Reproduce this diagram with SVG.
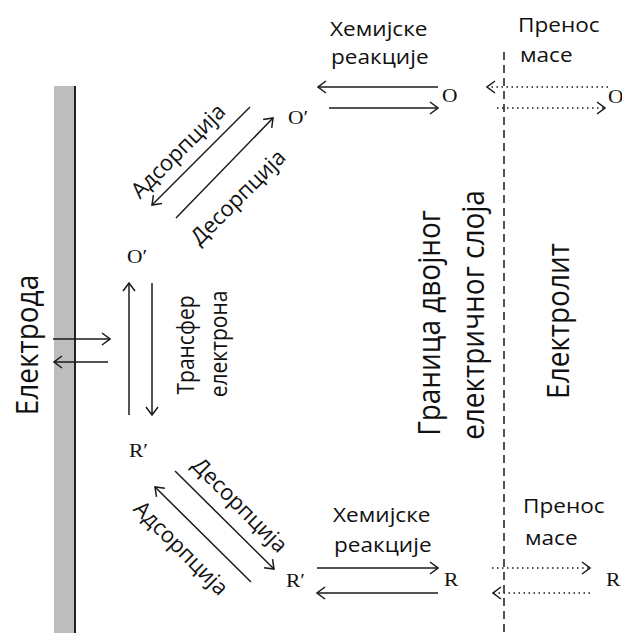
<svg xmlns="http://www.w3.org/2000/svg" width="622" height="633" viewBox="0 0 622 633">
<defs>
<style>
.s{font-family:"Open Sans","Noto Sans","DejaVu Sans",sans-serif;fill:#111}
.h{font-size:20px}
.b{font-size:28px}
.d{font-size:22px}
.v{font-size:21px}
.m{font-family:"Liberation Serif","Times New Roman",serif;font-size:19px;fill:#111}
.c{text-anchor:middle;dominant-baseline:central}
.ln{stroke:#1a1a1a;stroke-width:1.5;fill:none}
.dt{stroke:#1a1a1a;stroke-width:1.5;fill:none;stroke-dasharray:1.5,3.5}
</style>
<marker id="ah" viewBox="0 0 10 14" refX="9" refY="7" markerWidth="10" markerHeight="14" markerUnits="userSpaceOnUse" orient="auto">
<path d="M1,1 L9,7 L1,13" fill="none" stroke="#1a1a1a" stroke-width="1.5"/>
</marker>
</defs>
<rect width="622" height="633" fill="#fff"/>
<g id="electrode">
<rect x="54" y="86" width="21" height="547" fill="#bdbdbd"/>
<line x1="75" y1="86" x2="75" y2="633" stroke="#222" stroke-width="2"/>
<text class="s b c" transform="translate(26,345) scale(1.13,1) rotate(-90)">Електрода</text>
</g>
<g id="boundary">
<line x1="504" y1="52" x2="504" y2="633" stroke="#1a1a1a" stroke-width="1.5" stroke-dasharray="8,5"/>
<text class="s b c" transform="translate(428,323) scale(1.13,1) rotate(-90)">Граница двојног</text>
<text class="s b c" transform="translate(472,315) scale(1.13,1) rotate(-90)">електричног слоја</text>
</g>
<g id="electrolyte">
<text class="s b c" transform="translate(557,321) scale(1.13,1) rotate(-90)">Електролит</text>
</g>
<g id="species">
<text class="m" transform="translate(442,102) scale(1.13,1)">O</text>
<text class="m" transform="translate(608,103) scale(1.13,1)">O</text>
<text class="m" transform="translate(288,124) scale(1.13,1)">O′</text>
<text class="m" transform="translate(127,263) scale(1.13,1)">O′</text>
<text class="m" transform="translate(129,457) scale(1.13,1)">R′</text>
<text class="m" transform="translate(286,587) scale(1.13,1)">R′</text>
<text class="m" transform="translate(444,586) scale(1.13,1)">R</text>
<text class="m" transform="translate(606,586) scale(1.13,1)">R</text>
</g>
<g id="labels">
<text class="s h" transform="translate(330,36) scale(1.13,1)">Хемијске</text>
<text class="s h" transform="translate(331,64) scale(1.13,1)">реакције</text>
<text class="s h" transform="translate(518,32) scale(1.13,1)">Пренос</text>
<text class="s h" transform="translate(520,62) scale(1.13,1)">масе</text>
<text class="s h" transform="translate(333,522) scale(1.13,1)">Хемијске</text>
<text class="s h" transform="translate(334,552) scale(1.13,1)">реакције</text>
<text class="s h" transform="translate(523,513) scale(1.13,1)">Пренос</text>
<text class="s h" transform="translate(525,545) scale(1.13,1)">масе</text>
<text class="s d c" transform="translate(177,150) rotate(-45)">Адсорпција</text>
<text class="s d c" transform="translate(237,196) rotate(-45)">Десорпција</text>
<text class="s d c" transform="translate(241,504) rotate(45)">Десорпција</text>
<text class="s d c" transform="translate(182,547) rotate(45)">Адсорпција</text>
<text class="s v c" transform="translate(185,345) scale(1.13,1) rotate(-90)">Трансфер</text>
<text class="s v c" transform="translate(218,344) scale(1.13,1) rotate(-90)">електрона</text>
</g>
<g id="connectors">
<line class="ln" x1="438" y1="87" x2="318" y2="87" marker-end="url(#ah)"/>
<line class="ln" x1="329" y1="108" x2="438" y2="108" marker-end="url(#ah)"/>
<line class="dt" x1="608" y1="87" x2="487" y2="87" marker-end="url(#ah)"/>
<line class="dt" x1="497" y1="108" x2="605" y2="108" marker-end="url(#ah)"/>
<line class="ln" x1="250" y1="107" x2="152" y2="205" marker-end="url(#ah)"/>
<line class="ln" x1="176" y1="218" x2="273" y2="118" marker-end="url(#ah)"/>
<line class="ln" x1="129" y1="415" x2="129" y2="283" marker-end="url(#ah)"/>
<line class="ln" x1="152" y1="283" x2="152" y2="415" marker-end="url(#ah)"/>
<line class="ln" x1="53" y1="339" x2="110" y2="339" marker-end="url(#ah)"/>
<line class="ln" x1="108" y1="362" x2="54" y2="362" marker-end="url(#ah)"/>
<line class="ln" x1="175" y1="471" x2="274" y2="569" marker-end="url(#ah)"/>
<line class="ln" x1="251" y1="582" x2="155" y2="487" marker-end="url(#ah)"/>
<line class="ln" x1="317" y1="568" x2="438" y2="568" marker-end="url(#ah)"/>
<line class="ln" x1="438" y1="593" x2="317" y2="593" marker-end="url(#ah)"/>
<line class="dt" x1="492" y1="568" x2="590" y2="568" marker-end="url(#ah)"/>
<line class="dt" x1="590" y1="593" x2="493" y2="593" marker-end="url(#ah)"/>
</g>
</svg>
